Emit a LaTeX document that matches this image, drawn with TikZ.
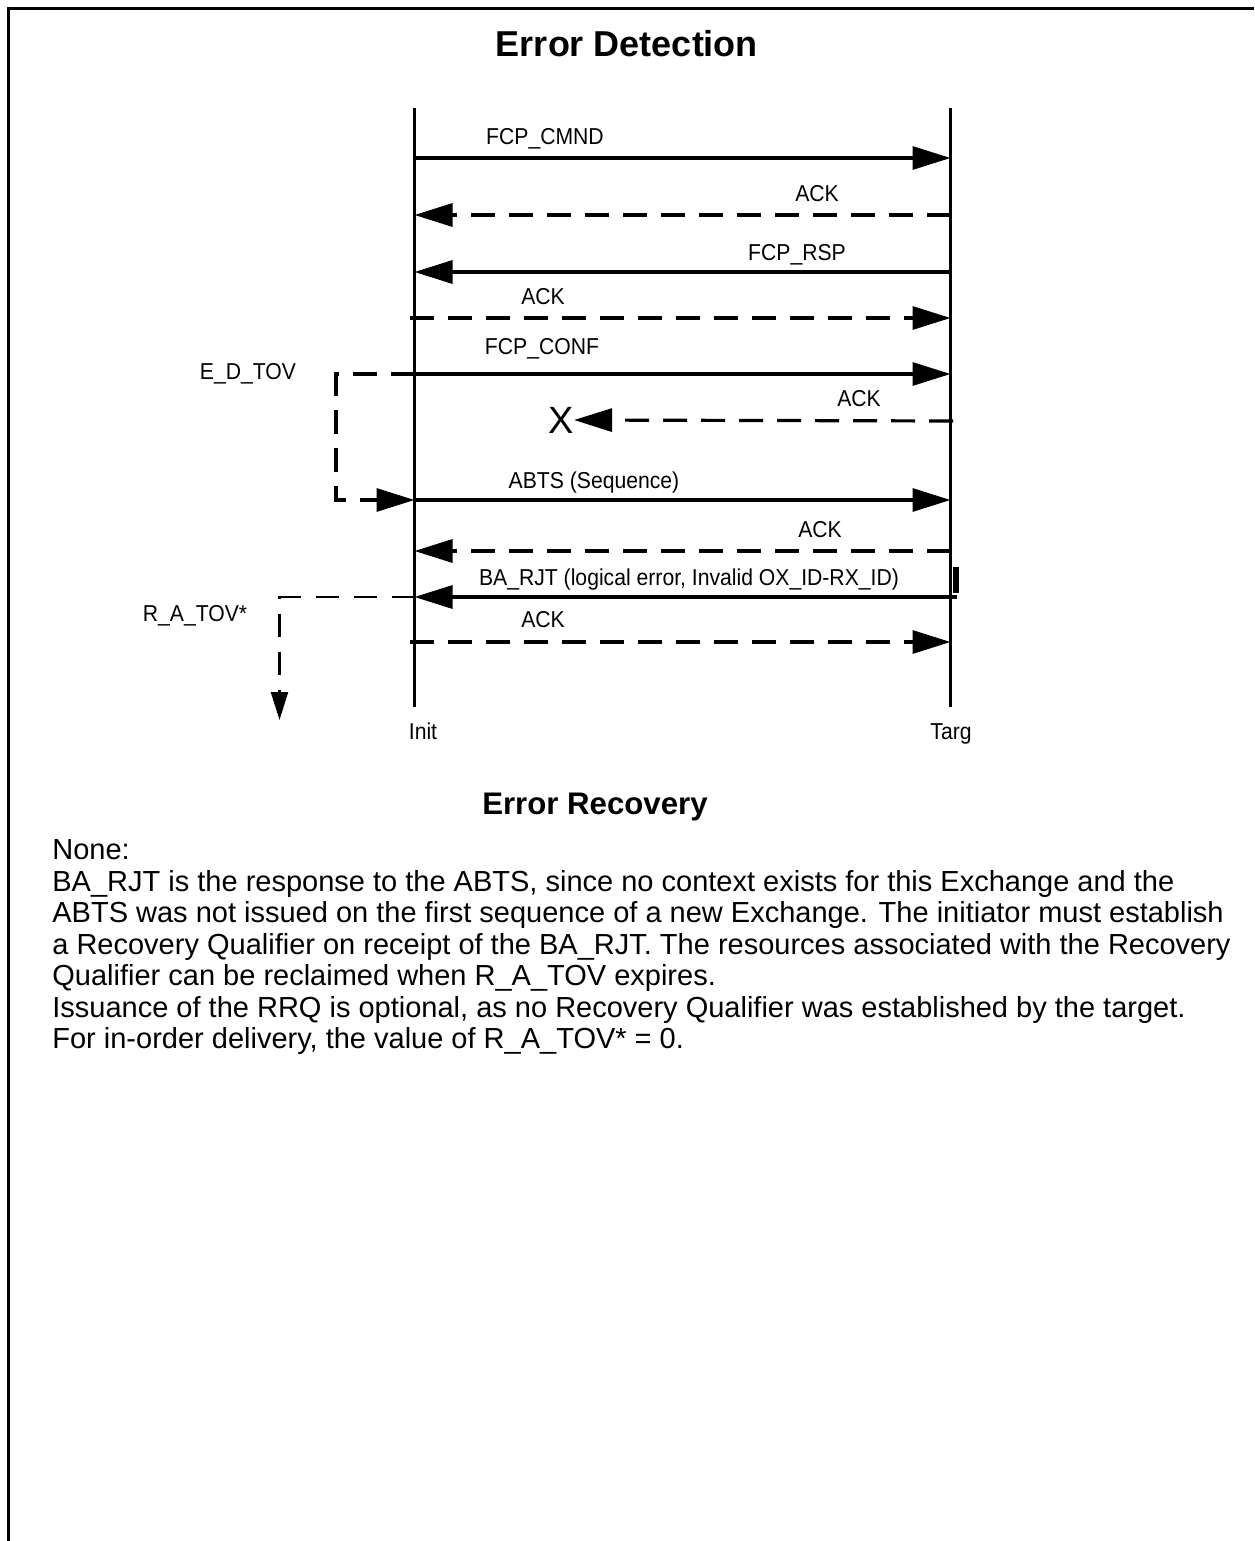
\documentclass[tikz,border=0pt]{standalone}
\usepackage{fontspec}
\setmainfont{Liberation Sans}
\newfontfamily\narrowfont[FakeStretch=0.92]{Liberation Sans}
\usetikzlibrary{arrows.meta}
\begin{document}
\begin{tikzpicture}[x=0.5pt,y=-0.5pt,
  life/.style={line width=1.6pt},
  msg/.style={line width=1.6pt,-{Triangle[length=19pt,width=11.5pt]}},
  dmsg/.style={msg,dash pattern=on 12pt off 7pt},
  lbl/.style={font=\narrowfont\fontsize{11.5}{13}\selectfont,inner sep=0pt,anchor=base},
  ttl/.style={font=\bfseries\fontsize{18}{21}\selectfont,inner sep=0pt,anchor=base},
  para/.style={font=\fontsize{14.5}{17}\selectfont,inner sep=0pt,anchor=base west},
  timerA/.style={line width=1.6pt,dash pattern=on 12pt off 7pt,-{Triangle[length=19pt,width=11.5pt]}},
  timerB/.style={line width=1.1pt,dash pattern=on 11.5pt off 7.5pt,-{Triangle[length=14pt,width=8.5pt]}},
]
\useasboundingbox (0,0) rectangle (1254,1541);
% frame
\coordinate (fTR) at (1254,8.5);
\coordinate (fTL) at (8.5,8.5);
\coordinate (fBL) at (8.5,1541);
\draw[line width=1.65pt] (fTR) -- (fTL) -- (fBL);

% titles
\node[ttl] (title1) at (627,56.5) {Error Detection};
\node[ttl,font=\bfseries\fontsize{15.6}{18}\selectfont] (title2) at (595,814) {Error Recovery};

% lifelines
\coordinate (initT) at (414.5,108);
\coordinate (initB) at (414.5,707);
\coordinate (targT) at (950.5,108);
\coordinate (targB) at (950.5,707);
\draw[life] (initT) -- (initB);
\draw[life] (targT) -- (targB);
\node[lbl] (initL) at (423,739) {Init};
\node[lbl] (targL) at (951,739) {Targ};

% message end points
\foreach \n/\y in {1/158,2/215,3/272,4/318,5/374,6/421,7/500,8/551,9/597,10/642}{
  \coordinate (I\n) at (414.5,\y);
  \coordinate (T\n) at (950.5,\y);
}
\coordinate (I4s) at (410,318);
\coordinate (I10s) at (410,642);
\coordinate (T6s) at (953,421);
\coordinate (T9s) at (957,597);

% messages
\draw[msg] (I1) -- (T1);
\node[lbl] (l1) at (545,145) {FCP\_CMND};
\draw[dmsg] (T2) -- (I2);
\node[lbl] (l2) at (817,201) {ACK};
\draw[msg] (T3) -- (I3);
\node[lbl] (l3) at (797,260) {FCP\_RSP};
\draw[dmsg] (I4s) -- (T4);
\node[lbl] (l4) at (543,304) {ACK};
\draw[msg] (I5) -- (T5);
\node[lbl] (l5) at (542,354) {FCP\_CONF};
\node[font=\fontsize{19}{21}\selectfont,inner sep=0pt] (lost) at (561,420) {X};
\draw[dmsg] (T6s) -- (lost.east);
\node[lbl] (l6) at (859,406) {ACK};
\draw[msg] (I7) -- (T7);
\node[lbl] (l7) at (594,488) {ABTS (Sequence)};
\draw[dmsg] (T8) -- (I8);
\node[lbl] (l8) at (820,537) {ACK};
\draw[msg] (T9s) -- (I9);
\node[lbl] (l9) at (689,585) {BA\_RJT (logical error, Invalid OX\_ID-RX\_ID)};
\fill (953,567) rectangle (959,593);
\draw[dmsg] (I10s) -- (T10);
\node[lbl] (l10) at (543,627) {ACK};

% timers
\coordinate (ed1) at (336,374);
\coordinate (ed2) at (336,500);
\draw[timerA] (I5) -- (ed1) -- (ed2) -- (I7);
\node[lbl] (edl) at (248,379) {E\_D\_TOV};
\coordinate (ra1) at (279.5,597);
\coordinate (ra2) at (279.5,720);
\draw[timerB] (I9) -- (ra1) -- (ra2);
\node[lbl] (ral) at (195,621) {R\_A\_TOV*};

% paragraph
\foreach \k/\t in {0/{None:},
  1/{BA\_RJT is the response to the ABTS, since no context exists for this Exchange and the},
  2/{ABTS was not issued on the first sequence of a new Exchange. The initiator must establish},
  3/{a Recovery Qualifier on receipt of the BA\_RJT. The resources associated with the Recovery},
  4/{Qualifier can be reclaimed when R\_A\_TOV expires.},
  5/{Issuance of the RRQ is optional, as no Recovery Qualifier was established by the target.},
  6/{For in-order delivery, the value of R\_A\_TOV* = 0.}}{
  \node[para] (p\k) at (52,859.5+31.5*\k) {\t};
}
\end{tikzpicture}
\end{document}
